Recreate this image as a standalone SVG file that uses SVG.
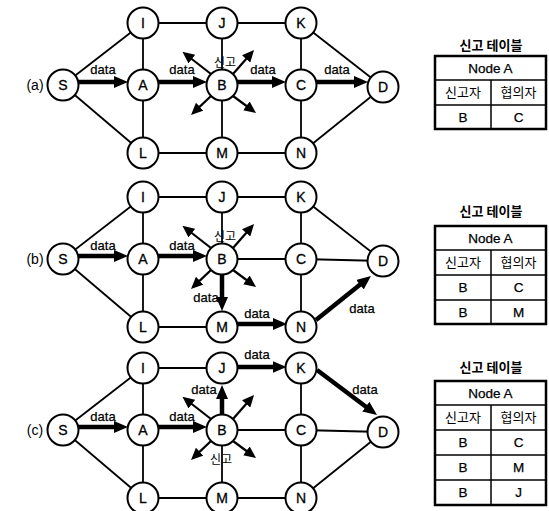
<svg xmlns="http://www.w3.org/2000/svg" width="549" height="511" viewBox="0 0 549 511">
<defs>
<style>
.e{stroke:#000;stroke-width:1.8;fill:none}
.t{stroke:#000;stroke-width:4.5;fill:none;marker-end:url(#hb)}
.s{stroke:#000;stroke-width:2.2;fill:none;marker-end:url(#hs)}
.n circle{fill:#fff;stroke:#000;stroke-width:2}
text{font-family:"Liberation Sans","Noto Sans CJK KR",sans-serif;fill:#000}
.nl{font-size:14px;text-anchor:middle;stroke:#000;stroke-width:0.3}
.lb{font-size:13px;text-anchor:middle;stroke:#000;stroke-width:0.25}
.pl{font-size:14px;text-anchor:middle}
.ko{font-family:"Noto Sans CJK KR",sans-serif;font-size:12px;text-anchor:middle}
.tt{font-family:"Noto Sans CJK KR",sans-serif;font-size:13px;font-weight:bold;text-anchor:middle}
.tc{font-size:13.5px;text-anchor:middle;stroke:#000;stroke-width:0.25}
.tk{font-family:"Noto Sans CJK KR",sans-serif;font-size:13px;text-anchor:middle}
.to{fill:none;stroke:#000;stroke-width:2.5}
.ti{stroke:#000;stroke-width:1.5}
</style>
<marker id="hb" viewBox="0 0 14 12" markerUnits="userSpaceOnUse" markerWidth="14" markerHeight="12" refX="1" refY="6" orient="auto"><path d="M0,0 L14,6 L0,12 z" fill="#000"/></marker>
<marker id="hs" viewBox="0 0 12 11" markerUnits="userSpaceOnUse" markerWidth="12" markerHeight="11" refX="1" refY="5.5" orient="auto"><path d="M0,0 L12,5.5 L0,11 z" fill="#000"/></marker>
</defs>

<!-- Panel (a) -->
<g id="panel-a">
<text class="pl" x="35" y="90">(a)</text>
<g id="a-connectors">
<line class="e" x1="63" y1="85" x2="143" y2="23"/>
<line class="e" x1="63" y1="85" x2="143" y2="153"/>
<line class="e" x1="143" y1="23" x2="222" y2="23"/>
<line class="e" x1="222" y1="23" x2="301" y2="23"/>
<line class="e" x1="301" y1="23" x2="383" y2="87"/>
<line class="e" x1="143" y1="23" x2="143" y2="153"/>
<line class="e" x1="143" y1="153" x2="301" y2="153"/>
<line class="e" x1="301" y1="153" x2="383" y2="87"/>
<line class="e" x1="222" y1="23" x2="222" y2="153"/>
<line class="e" x1="301" y1="23" x2="301" y2="153"/>
<line class="t" x1="78" y1="82" x2="115" y2="82"/>
<line class="t" x1="158" y1="82" x2="194" y2="82"/>
<line class="t" x1="237" y1="82" x2="273" y2="82"/>
<line class="t" x1="316" y1="82" x2="355" y2="82"/>
<line class="s" x1="211" y1="74" x2="191.1" y2="58.5"/>
<line class="s" x1="233" y1="74" x2="246.8" y2="58.2"/>
<line class="s" x1="211" y1="96" x2="199" y2="107.4"/>
<line class="s" x1="233" y1="96" x2="247.2" y2="106.5"/>
<text class="lb" x="103" y="74">data</text>
<text class="lb" x="182" y="74">data</text>
<text class="lb" x="263" y="74">data</text>
<text class="lb" x="337" y="74">data</text>
<text class="ko" x="225" y="67">신고</text>
</g>
<g id="a-S" class="n"><circle cx="63" cy="85" r="15.5"/><text class="nl" x="63" y="90">S</text></g>
<g id="a-A" class="n"><circle cx="143" cy="85" r="15.5"/><text class="nl" x="143" y="90">A</text></g>
<g id="a-B" class="n"><circle cx="222" cy="85" r="15.5"/><text class="nl" x="222" y="90">B</text></g>
<g id="a-C" class="n"><circle cx="301" cy="85" r="15.5"/><text class="nl" x="301" y="90">C</text></g>
<g id="a-D" class="n"><circle cx="383" cy="87" r="15.5"/><text class="nl" x="383" y="92">D</text></g>
<g id="a-I" class="n"><circle cx="143" cy="23" r="15.5"/><text class="nl" x="143" y="28">I</text></g>
<g id="a-J" class="n"><circle cx="222" cy="23" r="15.5"/><text class="nl" x="222" y="28">J</text></g>
<g id="a-K" class="n"><circle cx="301" cy="23" r="15.5"/><text class="nl" x="301" y="28">K</text></g>
<g id="a-L" class="n"><circle cx="143" cy="153" r="15.5"/><text class="nl" x="143" y="158">L</text></g>
<g id="a-M" class="n"><circle cx="222" cy="153" r="15.5"/><text class="nl" x="222" y="158">M</text></g>
<g id="a-N" class="n"><circle cx="301" cy="153" r="15.5"/><text class="nl" x="301" y="158">N</text></g>
</g>

<!-- Panel (b) -->
<g id="panel-b" transform="translate(0,174)">
<text class="pl" x="35" y="90">(b)</text>
<g id="b-connectors">
<line class="e" x1="63" y1="85" x2="143" y2="23"/>
<line class="e" x1="63" y1="85" x2="143" y2="153"/>
<line class="e" x1="143" y1="23" x2="222" y2="23"/>
<line class="e" x1="222" y1="23" x2="301" y2="23"/>
<line class="e" x1="301" y1="23" x2="383" y2="87"/>
<line class="e" x1="143" y1="23" x2="143" y2="153"/>
<line class="e" x1="143" y1="153" x2="222" y2="153"/>
<line class="e" x1="222" y1="23" x2="222" y2="85"/>
<line class="e" x1="301" y1="23" x2="301" y2="153"/>
<line class="e" x1="222" y1="85" x2="301" y2="85"/>
<line class="e" x1="301" y1="85" x2="383" y2="87"/>
<line class="t" x1="78" y1="82" x2="115" y2="82"/>
<line class="t" x1="158" y1="82" x2="194" y2="82"/>
<line class="t" x1="222" y1="100" x2="222" y2="124"/>
<line class="t" x1="237" y1="150" x2="274" y2="150"/>
<line class="t" x1="316" y1="146" x2="360.8" y2="110.1"/>
<line class="s" x1="211" y1="74" x2="191.1" y2="58.5"/>
<line class="s" x1="233" y1="74" x2="246.8" y2="58.2"/>
<line class="s" x1="211" y1="96" x2="199" y2="107.4"/>
<line class="s" x1="233" y1="96" x2="247.2" y2="106.5"/>
<text class="lb" x="103" y="76">data</text>
<text class="lb" x="182" y="76">data</text>
<text class="lb" x="206" y="128">data</text>
<text class="lb" x="257" y="144">data</text>
<text class="lb" x="362" y="139">data</text>
<text class="ko" x="225" y="67">신고</text>
</g>
<g id="b-S" class="n"><circle cx="63" cy="85" r="15.5"/><text class="nl" x="63" y="90">S</text></g>
<g id="b-A" class="n"><circle cx="143" cy="85" r="15.5"/><text class="nl" x="143" y="90">A</text></g>
<g id="b-B" class="n"><circle cx="222" cy="85" r="15.5"/><text class="nl" x="222" y="90">B</text></g>
<g id="b-C" class="n"><circle cx="301" cy="85" r="15.5"/><text class="nl" x="301" y="90">C</text></g>
<g id="b-D" class="n"><circle cx="383" cy="87" r="15.5"/><text class="nl" x="383" y="92">D</text></g>
<g id="b-I" class="n"><circle cx="143" cy="23" r="15.5"/><text class="nl" x="143" y="28">I</text></g>
<g id="b-J" class="n"><circle cx="222" cy="23" r="15.5"/><text class="nl" x="222" y="28">J</text></g>
<g id="b-K" class="n"><circle cx="301" cy="23" r="15.5"/><text class="nl" x="301" y="28">K</text></g>
<g id="b-L" class="n"><circle cx="143" cy="153" r="15.5"/><text class="nl" x="143" y="158">L</text></g>
<g id="b-M" class="n"><circle cx="222" cy="153" r="15.5"/><text class="nl" x="222" y="158">M</text></g>
<g id="b-N" class="n"><circle cx="301" cy="153" r="15.5"/><text class="nl" x="301" y="158">N</text></g>
</g>

<!-- Panel (c) -->
<g id="panel-c" transform="translate(0,345)">
<text class="pl" x="35" y="90">(c)</text>
<g id="c-connectors">
<line class="e" x1="63" y1="85" x2="143" y2="23"/>
<line class="e" x1="63" y1="85" x2="143" y2="153"/>
<line class="e" x1="143" y1="23" x2="222" y2="23"/>
<line class="e" x1="143" y1="23" x2="143" y2="153"/>
<line class="e" x1="143" y1="153" x2="301" y2="153"/>
<line class="e" x1="301" y1="153" x2="383" y2="87"/>
<line class="e" x1="222" y1="85" x2="222" y2="153"/>
<line class="e" x1="301" y1="23" x2="301" y2="153"/>
<line class="e" x1="222" y1="85" x2="301" y2="85"/>
<line class="e" x1="301" y1="85" x2="383" y2="87"/>
<line class="t" x1="78" y1="82" x2="115" y2="82"/>
<line class="t" x1="158" y1="82" x2="194" y2="82"/>
<line class="t" x1="222" y1="70" x2="222" y2="53"/>
<line class="t" x1="237" y1="22" x2="273.5" y2="22"/>
<line class="t" x1="317" y1="25" x2="366.6" y2="62.2"/>
<line class="s" x1="211" y1="74" x2="191.1" y2="58.5"/>
<line class="s" x1="233" y1="74" x2="246.8" y2="58.2"/>
<line class="s" x1="211" y1="96" x2="199" y2="107.4"/>
<line class="s" x1="233" y1="96" x2="247.2" y2="106.5"/>
<text class="lb" x="103" y="76">data</text>
<text class="lb" x="182" y="76">data</text>
<text class="lb" x="204" y="49">data</text>
<text class="lb" x="257" y="14">data</text>
<text class="lb" x="365" y="49">data</text>
<text class="ko" x="221" y="119">신고</text>
</g>
<g id="c-S" class="n"><circle cx="63" cy="85" r="15.5"/><text class="nl" x="63" y="90">S</text></g>
<g id="c-A" class="n"><circle cx="143" cy="85" r="15.5"/><text class="nl" x="143" y="90">A</text></g>
<g id="c-B" class="n"><circle cx="222" cy="85" r="15.5"/><text class="nl" x="222" y="90">B</text></g>
<g id="c-C" class="n"><circle cx="301" cy="85" r="15.5"/><text class="nl" x="301" y="90">C</text></g>
<g id="c-D" class="n"><circle cx="383" cy="87" r="15.5"/><text class="nl" x="383" y="92">D</text></g>
<g id="c-I" class="n"><circle cx="143" cy="23" r="15.5"/><text class="nl" x="143" y="28">I</text></g>
<g id="c-J" class="n"><circle cx="222" cy="23" r="15.5"/><text class="nl" x="222" y="28">J</text></g>
<g id="c-K" class="n"><circle cx="301" cy="23" r="15.5"/><text class="nl" x="301" y="28">K</text></g>
<g id="c-L" class="n"><circle cx="143" cy="153" r="15.5"/><text class="nl" x="143" y="158">L</text></g>
<g id="c-M" class="n"><circle cx="222" cy="153" r="15.5"/><text class="nl" x="222" y="158">M</text></g>
<g id="c-N" class="n"><circle cx="301" cy="153" r="15.5"/><text class="nl" x="301" y="158">N</text></g>
</g>

<!-- Tables -->
<g id="table-a">
<text class="tt" x="491" y="50">신고 테이블</text>
<rect class="to" x="435" y="56" width="111" height="73"/>
<line class="ti" x1="435" y1="80" x2="546" y2="80"/>
<line class="ti" x1="435" y1="105" x2="546" y2="105"/>
<line class="ti" x1="491" y1="80" x2="491" y2="129"/>
<text class="tc" x="490.5" y="73">Node A</text>
<text class="tk" x="463" y="97">신고자</text>
<text class="tk" x="518.5" y="97">협의자</text>
<text class="tc" x="463" y="122">B</text>
<text class="tc" x="518.5" y="122">C</text>
</g>
<g id="table-b">
<text class="tt" x="491" y="216">신고 테이블</text>
<rect class="to" x="435" y="226" width="111" height="98"/>
<line class="ti" x1="435" y1="250" x2="546" y2="250"/>
<line class="ti" x1="435" y1="275" x2="546" y2="275"/>
<line class="ti" x1="435" y1="300" x2="546" y2="300"/>
<line class="ti" x1="491" y1="250" x2="491" y2="324"/>
<text class="tc" x="490.5" y="243">Node A</text>
<text class="tk" x="463" y="267">신고자</text>
<text class="tk" x="518.5" y="267">협의자</text>
<text class="tc" x="463" y="292">B</text>
<text class="tc" x="518.5" y="292">C</text>
<text class="tc" x="463" y="317">B</text>
<text class="tc" x="518.5" y="317">M</text>
</g>
<g id="table-c">
<text class="tt" x="491" y="372">신고 테이블</text>
<rect class="to" x="435" y="381" width="111" height="124"/>
<line class="ti" x1="435" y1="405" x2="546" y2="405"/>
<line class="ti" x1="435" y1="430" x2="546" y2="430"/>
<line class="ti" x1="435" y1="455" x2="546" y2="455"/>
<line class="ti" x1="435" y1="480" x2="546" y2="480"/>
<line class="ti" x1="491" y1="405" x2="491" y2="505"/>
<text class="tc" x="490.5" y="398">Node A</text>
<text class="tk" x="463" y="422">신고자</text>
<text class="tk" x="518.5" y="422">협의자</text>
<text class="tc" x="463" y="447">B</text>
<text class="tc" x="518.5" y="447">C</text>
<text class="tc" x="463" y="472">B</text>
<text class="tc" x="518.5" y="472">M</text>
<text class="tc" x="463" y="497">B</text>
<text class="tc" x="518.5" y="497">J</text>
</g>
</svg>
